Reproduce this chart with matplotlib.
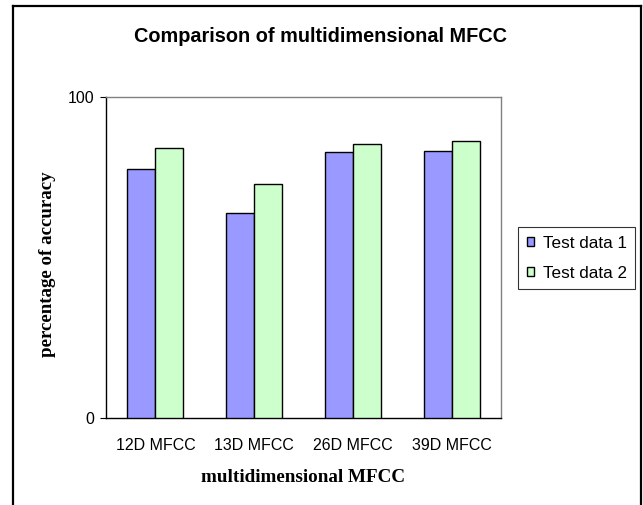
import matplotlib
matplotlib.use("Agg")
import matplotlib.pyplot as plt
from matplotlib.lines import Line2D
import numpy as np

categories = ["12D MFCC", "13D MFCC", "26D MFCC", "39D MFCC"]
series_names = ["Test data 1", "Test data 2"]
test_data_1 = [77.5, 63.7, 82.7, 83.1]
test_data_2 = [84.1, 73.0, 85.2, 86.2]
yticks = [0, 100]

W, H = 643, 505
fig = plt.figure(figsize=(W / 100, H / 100), dpi=100)
fig.patch.set_facecolor("white")

ax = fig.add_axes([106 / W, 1 - 418.3 / H, (501 - 106) / W, (418.3 - 96.7) / H])

x = np.arange(len(categories))
bw = 0.2835
ax.bar(x - bw / 2, test_data_1, bw, color="#9999FF", edgecolor="black", linewidth=1.0,
       label=series_names[0], zorder=3)
ax.bar(x + bw / 2, test_data_2, bw, color="#CCFFCC", edgecolor="black", linewidth=1.0,
       label=series_names[1], zorder=3)

ax.set_xlim(-0.5, len(categories) - 0.5)
ax.set_ylim(0, 100)
ax.set_yticks(yticks)
ax.set_yticklabels([str(v) for v in yticks], fontfamily="Liberation Sans", fontsize=11.5)
ax.set_xticks(x)
ax.set_xticklabels(categories, fontfamily="Liberation Sans", fontsize=11.5)
ax.tick_params(axis="x", length=0, pad=14)
ax.tick_params(axis="y", length=4.5, width=0.8, direction="out", pad=4)

for s in ["top", "right"]:
    ax.spines[s].set_color("#808080")
    ax.spines[s].set_linewidth(1.0)
for s in ["left", "bottom"]:
    ax.spines[s].set_color("black")
    ax.spines[s].set_linewidth(1.0)

fig.text(321 / W, 1 - 36 / H, "Comparison of multidimensional MFCC", ha="center", va="center",
         fontfamily="Liberation Sans", fontweight="bold", fontsize=14.3)
fig.text(303 / W, 1 - 477 / H, "multidimensional MFCC", ha="center", va="center",
         fontfamily="Liberation Serif", fontweight="bold", fontsize=13.8)
fig.text(48 / W, 1 - 264 / H, "percentage of accuracy", ha="center", va="center", rotation=90,
         fontfamily="Liberation Serif", fontweight="bold", fontsize=13.6)

leg = ax.legend(loc="upper left", bbox_to_anchor=(518 / W, 1 - 289 / H, (635 - 518) / W, (289 - 227) / H),
                bbox_transform=fig.transFigure, mode="expand", frameon=True, fancybox=False,
                prop={"family": "Liberation Sans", "size": 12.3}, handlelength=0.45, handleheight=0.45,
                handletextpad=0.5, borderaxespad=0, borderpad=0.5, labelspacing=0.9)
leg.get_frame().set_edgecolor("black")
leg.get_frame().set_linewidth(0.8)

# outer frame
lw = 1.6
fig.add_artist(Line2D([13 / W, 13 / W], [0, 1 - 6 / H], color="black", lw=lw, transform=fig.transFigure))
fig.add_artist(Line2D([641 / W, 641 / W], [0, 1 - 6 / H], color="black", lw=lw, transform=fig.transFigure))
fig.add_artist(Line2D([13 / W, 641 / W], [1 - 6 / H, 1 - 6 / H], color="black", lw=lw, transform=fig.transFigure))

fig.savefig("out.png", dpi=100)
